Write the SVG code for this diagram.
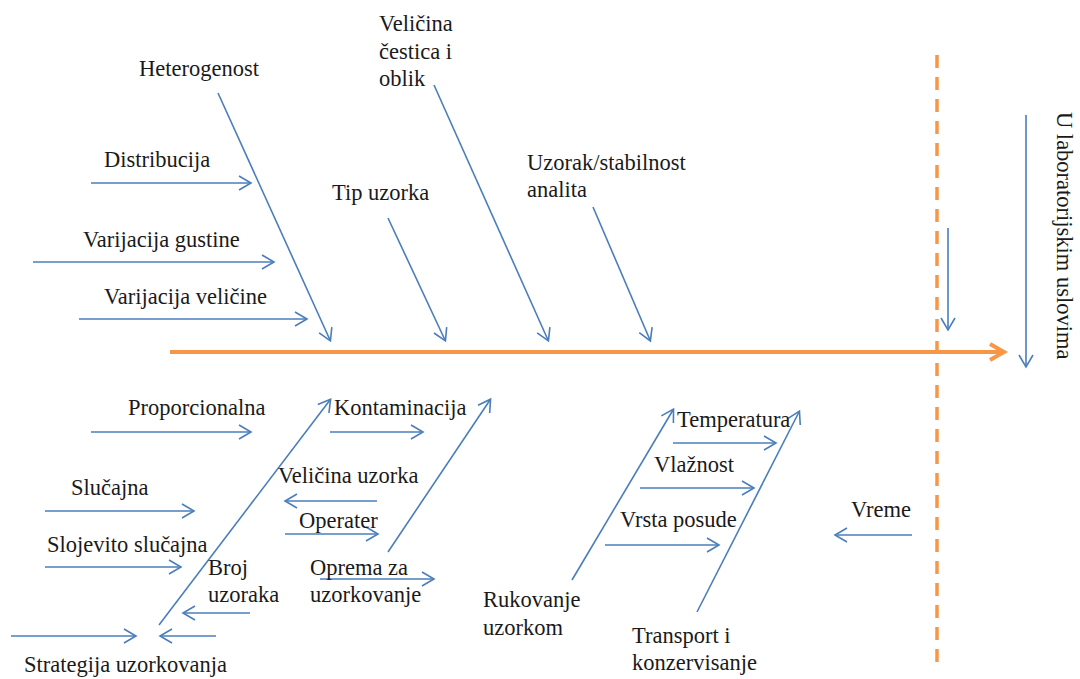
<svg xmlns="http://www.w3.org/2000/svg" width="1080" height="679" viewBox="0 0 1080 679">
<defs>
<style>
.t{font-size:22.5px;fill:#1a1a1a}
.b{stroke:#4a7ebb;stroke-width:1.6;fill:none;marker-end:url(#ab)}
.spine{stroke:#f79646;stroke-width:4;fill:none;marker-end:url(#ao)}
.dash{stroke:#f79646;stroke-width:3.5;stroke-dasharray:13 9;fill:none}
</style>
<marker id="ab" markerUnits="userSpaceOnUse" markerWidth="16" markerHeight="16" refX="12" refY="8" orient="auto" viewBox="0 0 16 16">
<path d="M1,1 L13,8 L1,15" fill="none" stroke="#4a7ebb" stroke-width="1.6"/>
</marker>
<marker id="ao" markerUnits="userSpaceOnUse" markerWidth="20" markerHeight="20" refX="15" refY="10" orient="auto" viewBox="0 0 20 20">
<path d="M2,2 L16,10 L2,18" fill="none" stroke="#f79646" stroke-width="4"/>
</marker>
</defs>
<rect width="1080" height="679" fill="#ffffff"/>
<g id="connectors">
<line class="dash" x1="937" y1="55" x2="937" y2="668"/>
<line class="spine" x1="170" y1="352" x2="1003" y2="352"/>
<line class="b" x1="218" y1="93" x2="330" y2="340"/>
<line class="b" x1="91" y1="183" x2="250" y2="183"/>
<line class="b" x1="33" y1="262" x2="273" y2="262"/>
<line class="b" x1="79" y1="319" x2="306" y2="319"/>
<line class="b" x1="388" y1="218" x2="445" y2="340"/>
<line class="b" x1="434" y1="85" x2="548" y2="340"/>
<line class="b" x1="593" y1="207" x2="650" y2="340"/>
<line class="b" x1="948" y1="228" x2="948" y2="329"/>
<line class="b" x1="1026" y1="115" x2="1026" y2="366"/>
<line class="b" x1="159" y1="625" x2="330" y2="400"/>
<line class="b" x1="91" y1="432" x2="250" y2="432"/>
<line class="b" x1="45" y1="511" x2="193" y2="511"/>
<line class="b" x1="45" y1="567" x2="180" y2="567"/>
<line class="b" x1="250" y1="613" x2="184" y2="613"/>
<line class="b" x1="11" y1="636" x2="135" y2="636"/>
<line class="b" x1="216" y1="636" x2="161" y2="636"/>
<line class="b" x1="330" y1="432" x2="422" y2="432"/>
<line class="b" x1="388" y1="552" x2="490" y2="400"/>
<line class="b" x1="377" y1="501" x2="286" y2="501"/>
<line class="b" x1="285" y1="534" x2="377" y2="534"/>
<line class="b" x1="320" y1="579" x2="433" y2="579"/>
<line class="b" x1="572" y1="580" x2="673" y2="410"/>
<line class="b" x1="673" y1="443" x2="775" y2="443"/>
<line class="b" x1="640" y1="488" x2="753" y2="488"/>
<line class="b" x1="605" y1="545" x2="718" y2="545"/>
<line class="b" x1="697" y1="612" x2="799" y2="412"/>
<line class="b" x1="912" y1="535" x2="836" y2="535"/>
</g>
<g class="t" font-family="Liberation Serif, serif">
<g id="n-heterogenost"><text x="139" y="76">Heterogenost</text></g>
<g id="n-distribucija"><text x="104" y="167">Distribucija</text></g>
<g id="n-varijacija-gustine"><text x="83" y="247">Varijacija gustine</text></g>
<g id="n-varijacija-velicine"><text x="104" y="304">Varijacija veličine</text></g>
<g id="n-tip-uzorka"><text x="332" y="200">Tip uzorka</text></g>
<g id="n-velicina-cestica"><text x="379" y="31">Veličina</text><text x="379" y="59">čestica i</text><text x="379" y="86">oblik</text></g>
<g id="n-uzorak-stabilnost"><text x="527" y="170">Uzorak/stabilnost</text><text x="527" y="197">analita</text></g>
<g id="n-laboratorija"><text transform="translate(1057,112) rotate(90)">U laboratorijskim uslovima</text></g>
<g id="n-proporcionalna"><text x="128" y="415">Proporcionalna</text></g>
<g id="n-slucajna"><text x="71" y="495">Slučajna</text></g>
<g id="n-slojevito"><text x="47" y="552">Slojevito slučajna</text></g>
<g id="n-broj"><text x="208" y="575">Broj</text><text x="208" y="602">uzoraka</text></g>
<g id="n-strategija"><text x="24" y="672">Strategija uzorkovanja</text></g>
<g id="n-kontaminacija"><text x="334" y="415">Kontaminacija</text></g>
<g id="n-velicina-uzorka"><text x="278" y="483">Veličina uzorka</text></g>
<g id="n-operater"><text x="299" y="528">Operater</text></g>
<g id="n-oprema"><text x="310" y="575">Oprema za</text><text x="310" y="602">uzorkovanje</text></g>
<g id="n-rukovanje"><text x="483" y="607">Rukovanje</text><text x="483" y="635">uzorkom</text></g>
<g id="n-temperatura"><text x="677" y="427">Temperatura</text></g>
<g id="n-vlaznost"><text x="654" y="472">Vlažnost</text></g>
<g id="n-vrsta-posude"><text x="620" y="527">Vrsta posude</text></g>
<g id="n-transport"><text x="632" y="643">Transport i</text><text x="632" y="670">konzervisanje</text></g>
<g id="n-vreme"><text x="851" y="517">Vreme</text></g>
</g>
</svg>
